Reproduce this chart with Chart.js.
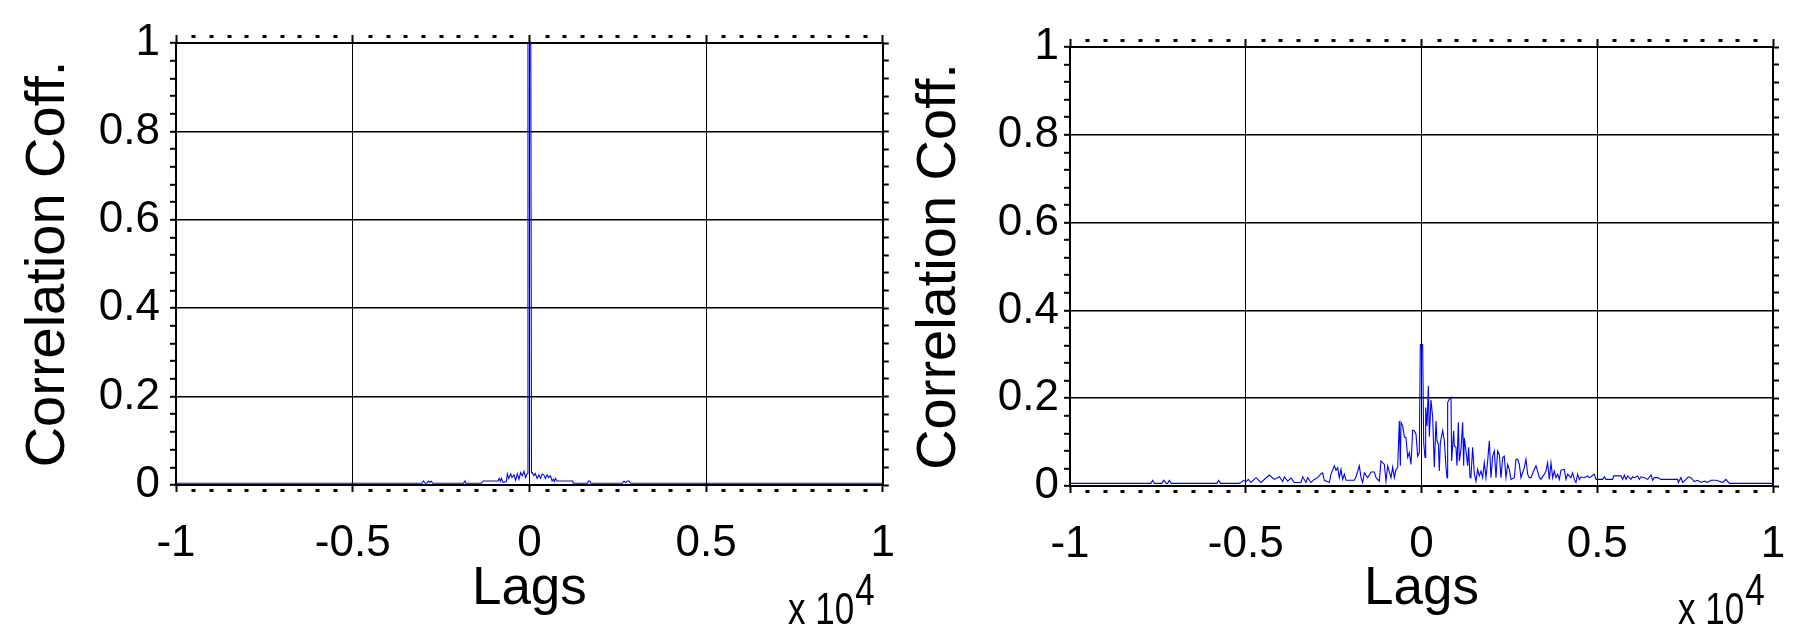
<!DOCTYPE html>
<html><head><meta charset="utf-8">
<script src="https://cdn.jsdelivr.net/npm/chart.js@4.4.1/dist/chart.umd.min.js"></script>
<style>
html,body{margin:0;padding:0;background:#fff;}
body{width:1793px;height:640px;position:relative;overflow:hidden;font-family:"Liberation Sans",Arial,sans-serif;}
canvas{position:absolute;top:0;}
.exp{position:absolute;font-size:35px;line-height:35px;color:#000;white-space:nowrap;transform:scaleY(1.28);transform-origin:0 30px;}
.exp span{position:relative;top:-15px;margin-left:1px;}
</style></head>
<body>
<canvas id="c1" width="920" height="640" style="left:0px;width:920px;height:640px"></canvas>
<canvas id="c2" width="913" height="640" style="left:900px;width:913px;height:640px"></canvas>
<div class="exp" style="left:788px;top:594px">x 10<span>4</span></div>
<div class="exp" style="left:1678px;top:594px">x 10<span>4</span></div>
<script>
// ---- data (lags in samples, correlation coefficients) ----
const leftLags = [-10000,-3042,-2995,-2948,-2902,-2855,-2817,-2780,-2733,-1870,-1823,-1804,-1354,-1307,-886,-857,-820,-792,-745,-651,-623,-585,-529,-492,-435,-389,-342,-295,-248,-201,-154,-107,-60,-40,40,60,80,127,165,221,268,315,362,409,455,502,549,596,643,680,709,737,784,1224,1243,1646,1674,1712,1740,2631,2678,2725,2772,2819,2865,10000];
const leftCorr = [0.004,0.004,0.009,0.004,0.004,0.009,0.006,0.009,0.004,0.004,0.009,0.004,0.004,0.009,0.009,0.015,0.008,0.015,0.006,0.008,0.025,0.015,0.025,0.017,0.023,0.011,0.025,0.013,0.028,0.021,0.031,0.017,0.026,1.0,1.0,0.028,0.028,0.021,0.026,0.015,0.023,0.015,0.025,0.023,0.015,0.023,0.017,0.021,0.009,0.013,0.008,0.015,0.009,0.009,0.004,0.004,0.009,0.009,0.004,0.004,0.009,0.005,0.009,0.009,0.004,0.004];

const rightLags = [-10000,-7700,-7648,-7600,-7390,-7335,-7260,-7220,-7174,-7120,-5820,-5770,-5720,-5200,-5135,-5059,-4993,-4926,-4850,-4708,-4566,-4329,-4187,-4044,-3950,-3902,-3807,-3712,-3618,-3428,-3381,-3286,-3238,-3144,-3049,-2954,-2859,-2812,-2764,-2622,-2575,-2480,-2432,-2385,-2338,-2290,-2243,-2195,-2148,-1911,-1863,-1768,-1721,-1674,-1626,-1531,-1437,-1342,-1294,-1200,-1152,-1057,-1010,-962,-868,-820,-773,-725,-678,-631,-602,-583,-536,-488,-441,-393,-346,-299,-251,-204,-156,-109,-62,-33,33,62,100,119,157,195,223,270,318,365,413,441,479,507,536,602,650,697,726,744,792,839,858,915,934,981,1010,1048,1076,1124,1171,1199,1218,1266,1313,1342,1380,1408,1455,1503,1550,1598,1645,1692,1740,1787,1835,1882,1929,1977,2024,2072,2119,2166,2214,2261,2309,2356,2403,2451,2498,2546,2640,2688,2735,2783,2830,2925,2972,3020,3067,3114,3209,3257,3304,3351,3399,3494,3541,3588,3636,3683,3731,3778,3825,3873,3920,3968,4062,4110,4157,4252,4299,4347,4394,4442,4489,4536,4631,4726,4773,4821,4916,4963,5058,5105,5154,5202,5249,5439,5467,5676,5723,5771,5818,5865,5960,6008,6055,6150,6197,6245,6339,6434,6529,6576,6624,6719,6813,7287,7306,7382,7430,7524,7591,7667,7761,7856,7951,8046,8141,8235,8378,8472,8567,8662,8757,10000];
const rightCorr = [0.006,0.006,0.013,0.006,0.006,0.013,0.006,0.006,0.013,0.006,0.006,0.013,0.006,0.006,0.008,0.013,0.010,0.015,0.008,0.019,0.008,0.025,0.015,0.021,0.010,0.021,0.011,0.018,0.008,0.008,0.021,0.008,0.019,0.008,0.015,0.019,0.028,0.030,0.013,0.008,0.027,0.046,0.036,0.042,0.019,0.038,0.015,0.027,0.013,0.013,0.021,0.046,0.019,0.008,0.030,0.019,0.032,0.032,0.019,0.011,0.057,0.049,0.011,0.046,0.019,0.043,0.019,0.038,0.042,0.148,0.046,0.145,0.137,0.112,0.110,0.065,0.076,0.049,0.127,0.126,0.118,0.068,0.076,0.322,0.322,0.099,0.065,0.179,0.137,0.228,0.112,0.196,0.156,0.043,0.148,0.103,0.095,0.034,0.099,0.126,0.103,0.042,0.019,0.190,0.198,0.202,0.057,0.126,0.091,0.088,0.046,0.145,0.057,0.084,0.145,0.046,0.110,0.080,0.046,0.088,0.019,0.023,0.088,0.027,0.011,0.038,0.023,0.034,0.019,0.053,0.019,0.057,0.103,0.019,0.068,0.080,0.019,0.080,0.072,0.019,0.065,0.068,0.019,0.049,0.038,0.015,0.019,0.061,0.061,0.049,0.019,0.042,0.061,0.027,0.019,0.019,0.038,0.046,0.034,0.019,0.015,0.027,0.034,0.053,0.015,0.053,0.019,0.034,0.019,0.027,0.015,0.036,0.038,0.015,0.027,0.019,0.030,0.015,0.008,0.027,0.015,0.021,0.019,0.023,0.019,0.021,0.027,0.015,0.015,0.015,0.015,0.021,0.015,0.015,0.023,0.023,0.015,0.025,0.015,0.023,0.015,0.021,0.019,0.023,0.015,0.021,0.019,0.015,0.025,0.013,0.019,0.019,0.015,0.015,0.008,0.019,0.008,0.015,0.021,0.019,0.010,0.013,0.008,0.011,0.008,0.013,0.013,0.011,0.008,0.015,0.006,0.006];

const xMajorTicks = [-10000,-5000,0,5000,10000];
const xTickLabels = ['-1','-0.5','0','0.5','1'];
const yMajorTicks = [0,0.2,0.4,0.6,0.8,1];
const yTickLabels = ['0','0.2','0.4','0.6','0.8','1'];

Chart.defaults.font.family = '"Liberation Sans", Arial, Helvetica, sans-serif';
Chart.defaults.color = '#000';

function majorIndex(list, v, eps){ for (let i=0;i<list.length;i++){ if (Math.abs(list[i]-v) < eps) return i; } return -1; }
const isXMajor = v => majorIndex(xMajorTicks, v, 1e-6) >= 0;
const isYMajor = v => majorIndex(yMajorTicks, v, 1e-6) >= 0;

function makeChart(id, lags, corr, g) {
  const canvas = document.getElementById(id);
  const W = canvas.width, H = canvas.height;
  const pts = lags.map((x, i) => ({x: x, y: corr[i]}));
  const xBase = {type:'linear', min:-10000, max:10000};
  return new Chart(canvas, {
    type: 'line',
    data: { datasets: [{ data: pts, borderColor:'#0000ff', borderWidth:1.1, pointRadius:0, tension:0, fill:false, xAxisID:'x', yAxisID:'y' }] },
    options: {
      responsive:false, animation:false, devicePixelRatio:1,
      layout:{padding:0},
      plugins:{legend:{display:false}, tooltip:{enabled:false}},
      scales: {
        x: Object.assign({}, xBase, {
          position:'bottom',
          ticks:{stepSize:500, maxTicksLimit:1000, autoSkip:false, maxRotation:0, minRotation:0, padding:25,
                 font:{size:44}, color:'#000',
                 callback:(v)=>{ const k = majorIndex(xMajorTicks, v, 1e-6); return k>=0 ? xTickLabels[k] : ''; }},
          grid:{ color:(c)=> isXMajor(c.tick.value) ? '#000' : 'rgba(0,0,0,0)', lineWidth:1,
                 drawTicks:true, tickLength:7, tickColor:'#000',
                 tickWidth:(c)=> isXMajor(c.tick.value) ? 2 : 4,
                 tickBorderDash:(c)=> isXMajor(c.tick.value) ? [] : [0,3,4,40] },
          border:{display:true, color:'#000', width:2},
          title:{display:true, text:'Lags', color:'#000', font:{size:53}, padding:{top:0, bottom:19}},
          afterFit:(s)=>{ s.height = H - g.bottom; }
        }),
        x2: Object.assign({}, xBase, {
          position:'top', axis:'x',
          ticks:{display:false, stepSize:500, maxTicksLimit:1000, autoSkip:false},
          grid:{ drawOnChartArea:false, drawTicks:true, tickLength:8, tickColor:'#000',
                 tickWidth:(c)=> isXMajor(c.tick.value) ? 2 : 4,
                 tickBorderDash:(c)=> isXMajor(c.tick.value) ? [] : [3,40] },
          border:{display:true, color:'#000', width:2},
          afterFit:(s)=>{ s.height = g.top; }
        }),
        y: {
          type:'linear', position:'left', min:0, max:1,
          ticks:{stepSize:0.04, maxTicksLimit:1000, autoSkip:false, padding:g.yPad, font:{size:44}, color:'#000',
                 callback:(v)=>{ const k = majorIndex(yMajorTicks, v, 1e-6); return k>=0 ? yTickLabels[k] : ''; }},
          grid:{ color:(c)=> isYMajor(c.tick.value) ? '#000' : 'rgba(0,0,0,0)', lineWidth:1.6,
                 drawTicks:true, tickLength:6, tickColor:'#000', tickWidth:2 },
          border:{display:true, color:'#000', width:2},
          title:{display:true, text:'Correlation Coff.', color:'#000', font:{size:56}, padding:{top:g.titlePad, bottom:0}},
          afterFit:(s)=>{ s.width = g.left; }
        },
        y2: {
          type:'linear', position:'right', axis:'y', min:0, max:1,
          ticks:{display:false, stepSize:0.04, maxTicksLimit:1000, autoSkip:false},
          grid:{ drawOnChartArea:false, drawTicks:true, tickLength:6, tickColor:'#000', tickWidth:2 },
          border:{display:true, color:'#000', width:2},
          afterFit:(s)=>{ s.width = W - g.right; }
        }
      }
    }
  });
}

makeChart('c1', leftLags, leftCorr, {left:176, right:887, top:43, bottom:485, yPad:10, titlePad:15});
makeChart('c2', rightLags, rightCorr, {left:170, right:873, top:47, bottom:486, yPad:5, titlePad:6});
</script>
</body></html>
